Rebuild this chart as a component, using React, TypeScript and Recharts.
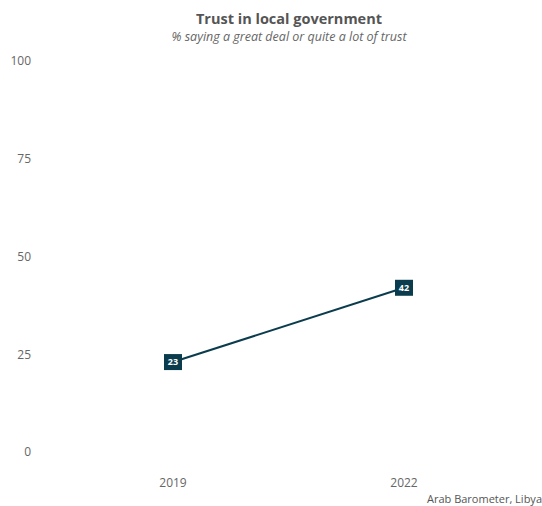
import React from 'react';
import { LineChart, Line, XAxis, YAxis } from 'recharts';

// values
const years = ['2019', '2022'];
const trust = [23, 42];
const yTicks = [0, 25, 50, 75, 100];

const data = years.map((year, i) => ({ year, trust: trust[i] }));

const FONT = '"Open Sans", sans-serif';
const DARK = '#0b3c4d';

// dark box with white value on each point
// eslint-disable-next-line @typescript-eslint/no-explicit-any
const ValueBox = (props: any) => {
  const { x, y, value } = props;
  if (x == null || y == null) return null;
  return (
    <g>
      <rect x={x - 9} y={y - 8} width={18} height={16} fill={DARK} />
      <text
        x={x}
        y={y}
        dy="0.35em"
        textAnchor="middle"
        fill="#ffffff"
        fontSize={9}
        fontWeight={700}
        fontFamily={FONT}
      >
        {value}
      </text>
    </g>
  );
};

export default function App() {
  return (
    <div style={{ position: 'absolute', left: 0, top: 0, width: 542, height: 506, background: '#fff', fontFamily: FONT }}>
      <div style={{ position: 'absolute', left: 0, top: 11, width: 578, textAlign: 'center', fontSize: 14.5, fontWeight: 700, color: '#555', lineHeight: '16px' }}>
        Trust in local government
      </div>
      <div style={{ position: 'absolute', left: 0, top: 30, width: 578, textAlign: 'center', fontSize: 12.5, fontStyle: 'italic', color: '#666', lineHeight: '13px' }}>
        % saying a great deal or quite a lot of trust
      </div>
      <LineChart
        width={542}
        height={506}
        data={data}
        margin={{ top: 61, right: 7, bottom: 24, left: 0 }}
      >
        <XAxis
          dataKey="year"
          type="category"
          axisLine={false}
          tickLine={false}
          tickSize={0}
          tickMargin={26}
          height={30}
          padding={{ left: 131, right: 131 }}
          tick={{ fill: '#666', fontSize: 12, fontFamily: FONT }}
        />
        <YAxis
          type="number"
          domain={[0, 100]}
          ticks={yTicks}
          axisLine={false}
          tickLine={false}
          tickSize={0}
          tickMargin={11}
          width={42}
          tick={{ fill: '#666', fontSize: 12, fontFamily: FONT }}
        />
        <Line
          type="linear"
          dataKey="trust"
          stroke={DARK}
          strokeWidth={2}
          dot={false}
          activeDot={false}
          label={<ValueBox />}
          isAnimationActive={false}
        />
      </LineChart>
      <div style={{ position: 'absolute', right: 0, top: 493, fontSize: 11, color: '#555', lineHeight: '12px' }}>
        Arab Barometer, Libya
      </div>
    </div>
  );
}
